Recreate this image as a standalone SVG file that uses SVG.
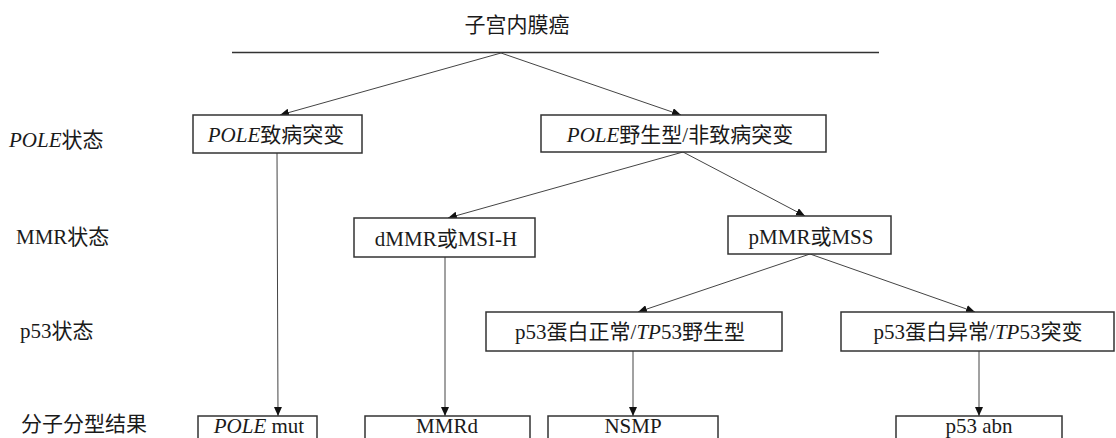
<svg xmlns="http://www.w3.org/2000/svg" width="1116" height="438" viewBox="0 0 1116 438">
<style>
text{font-family:"Liberation Serif","Noto Sans CJK SC",serif;font-size:21px;fill:#1a1a1a}
.c{text-anchor:middle}
.i{font-style:italic}
.box{fill:#fff;stroke:#333;stroke-width:1.5}
.ln{stroke:#444;stroke-width:1;fill:none}
</style>
<defs>
<marker id="ah" markerUnits="userSpaceOnUse" markerWidth="9" markerHeight="8" refX="9" refY="4" orient="auto">
<path d="M0,0 L9,4 L0,8 z" fill="#111"/>
</marker>
</defs>
<rect width="1116" height="438" fill="#fff"/>
<g id="title">
<text class="c" x="517" y="32">子宫内膜癌</text>
<line x1="232" y1="52.5" x2="879" y2="52.5" stroke="#333" stroke-width="1.5"/>
</g>
<g id="labels">
<text x="9" y="147"><tspan class="i">POLE</tspan>状态</text>
<text x="16" y="244">MMR状态</text>
<text x="20" y="338">p53状态</text>
<text x="21" y="431">分子分型结果</text>
</g>
<g id="connectors">
<line class="ln" x1="501" y1="53" x2="280" y2="115" marker-end="url(#ah)"/>
<line class="ln" x1="501" y1="53" x2="681" y2="115" marker-end="url(#ah)"/>
<line class="ln" x1="683" y1="152" x2="448" y2="218" marker-end="url(#ah)"/>
<line class="ln" x1="683" y1="152" x2="805" y2="216" marker-end="url(#ah)"/>
<line class="ln" x1="810" y1="254" x2="638" y2="312" marker-end="url(#ah)"/>
<line class="ln" x1="810" y1="254" x2="975" y2="312" marker-end="url(#ah)"/>
<line class="ln" x1="277" y1="153" x2="278" y2="416" marker-end="url(#ah)"/>
<line class="ln" x1="445" y1="257" x2="445" y2="416" marker-end="url(#ah)"/>
<line class="ln" x1="633" y1="351" x2="633" y2="416" marker-end="url(#ah)"/>
<line class="ln" x1="979" y1="351" x2="979" y2="416" marker-end="url(#ah)"/>
</g>
<g id="pole_mut_status">
<rect class="box" x="193" y="115" width="169" height="38"/>
<text class="c" x="276" y="142"><tspan class="i">POLE</tspan>致病突变</text>
</g>
<g id="pole_wt_status">
<rect class="box" x="541" y="115" width="285" height="37"/>
<text class="c" x="680" y="142"><tspan class="i">POLE</tspan>野生型/非致病突变</text>
</g>
<g id="dmmr">
<rect class="box" x="354" y="218" width="181" height="39"/>
<text class="c" x="446" y="246">dMMR或MSI-H</text>
</g>
<g id="pmmr">
<rect class="box" x="728" y="216" width="163" height="38"/>
<text class="c" x="811" y="244">pMMR或MSS</text>
</g>
<g id="p53_wt">
<rect class="box" x="486" y="312" width="296" height="39"/>
<text class="c" x="630" y="339">p53蛋白正常/<tspan class="i">TP</tspan>53野生型</text>
</g>
<g id="p53_mut">
<rect class="box" x="841" y="312" width="273" height="39"/>
<text class="c" x="978" y="339">p53蛋白异常/<tspan class="i">TP</tspan>53突变</text>
</g>
<g id="pole_mut">
<rect class="box" x="198" y="416" width="119" height="40"/>
<text class="c" x="259" y="433"><tspan class="i">POLE</tspan> mut</text>
</g>
<g id="mmrd">
<rect class="box" x="365" y="416" width="165" height="40"/>
<text class="c" x="447" y="433">MMRd</text>
</g>
<g id="nsmp">
<rect class="box" x="548" y="416" width="170" height="40"/>
<text class="c" x="633" y="433">NSMP</text>
</g>
<g id="p53_abn">
<rect class="box" x="896" y="416" width="166" height="40"/>
<text class="c" x="979" y="433">p53 abn</text>
</g>
</svg>
